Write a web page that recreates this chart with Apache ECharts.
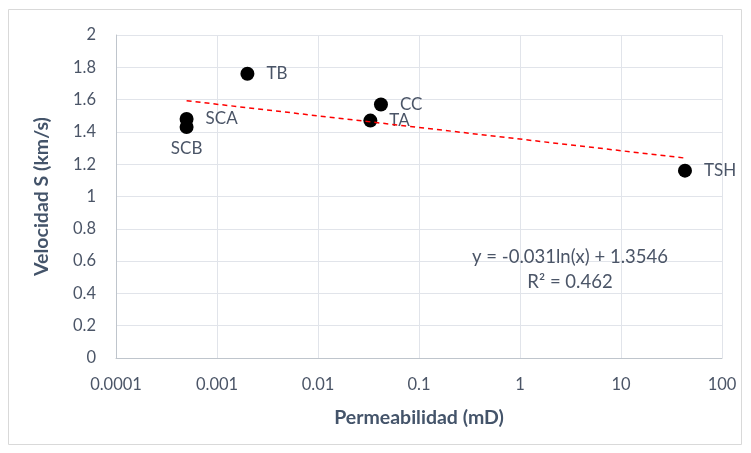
<!DOCTYPE html>
<html>
<head>
<meta charset="utf-8">
<script src="https://cdn.jsdelivr.net/npm/echarts@6/dist/echarts.min.js"></script>
<style>
  html, body { margin: 0; padding: 0; background: #fff; }
  #chart { width: 751px; height: 453px; }
</style>
</head>
<body>
<div id="chart"></div>
<script>
const sampleNames = ['SCA', 'SCB', 'TB', 'CC', 'TA', 'TSH']
const permeability = [0.0005, 0.0005, 0.002, 0.042, 0.033, 43]
const velocityS = [1.48, 1.43, 1.76, 1.57, 1.47, 1.16]
const trendX = [0.0005, 43]
const trendY = [1.593, 1.238]
const xTickLabels = ['0.0001', '0.001', '0.01', '0.1', '1', '10', '100']
const equationText = 'y = -0.031ln(x) + 1.3546'
const r2Text = 'R² = 0.462'

const textColor = '#4b5567'
const titleColor = '#44546a'
const font = 'Lato, "Noto Sans", sans-serif'

const chart = echarts.init(document.getElementById('chart'), null, { renderer: 'canvas' })

const points = sampleNames.map((name, i) => ({
  name,
  value: [permeability[i], velocityS[i]],
  label: name === 'SCB' ? { position: 'bottom', distance: 6 } : undefined
}))

const option = {
  backgroundColor: '#fff',
  animation: false,
  grid: { left: 116, top: 35, right: 29, bottom: 95 },
  xAxis: {
    type: 'log',
    logBase: 10,
    min: 0.0001,
    max: 100,
    name: 'Permeabilidad (mD)',
    nameLocation: 'middle',
    nameGap: 50,
    nameTextStyle: { color: titleColor, fontSize: 19.5, fontWeight: 'bold', fontFamily: font },
    axisLine: { show: true, lineStyle: { color: '#bfc5cc' } },
    axisTick: { show: false },
    minorTick: { show: false },
    axisLabel: {
      color: textColor, fontSize: 16.5, fontFamily: font, margin: 18,
      formatter: (v, i) => xTickLabels[i] !== undefined ? xTickLabels[i] : ''
    },
    splitLine: { show: true, lineStyle: { color: '#e1e4ea' } }
  },
  yAxis: {
    type: 'value',
    min: 0,
    max: 2,
    interval: 0.2,
    name: 'Velocidad S (km/s)',
    nameLocation: 'middle',
    nameGap: 64,
    nameTextStyle: { color: titleColor, fontSize: 19.5, fontWeight: 'bold', fontFamily: font },
    axisLine: { show: true, lineStyle: { color: '#bfc5cc' } },
    axisTick: { show: false },
    axisLabel: {
      color: textColor, fontSize: 16.5, fontFamily: font, margin: 20,
      formatter: v => String(Math.round(v * 10) / 10)
    },
    splitLine: { show: true, lineStyle: { color: '#e1e4ea' } }
  },
  series: [
    {
      type: 'scatter',
      data: points,
      symbolSize: 14,
      itemStyle: { color: '#000', opacity: 1 },
      label: {
        show: true,
        position: 'right',
        distance: 12,
        formatter: p => p.name,
        color: textColor,
        fontSize: 17,
        fontFamily: font
      },
      z: 2
    },
    {
      type: 'line',
      data: trendX.map((x, i) => [x, trendY[i]]),
      symbol: 'none',
      lineStyle: { color: '#ff0000', width: 1.5, type: [5, 4] },
      z: 3
    }
  ],
  graphic: [
    {
      type: 'rect',
      shape: { x: 8.5, y: 9.5, width: 733, height: 435 },
      style: { fill: 'none', stroke: '#d9d9d9', lineWidth: 1 },
      z: -1
    },
    {
      type: 'text',
      x: 570, y: 257,
      style: { text: equationText, fill: textColor, fontSize: 18.5, fontFamily: font, textAlign: 'center', textVerticalAlign: 'middle' },
      z: 10
    },
    {
      type: 'text',
      x: 570, y: 282,
      style: { text: r2Text, fill: textColor, fontSize: 18.5, fontFamily: font, textAlign: 'center', textVerticalAlign: 'middle' },
      z: 10
    }
  ]
}

chart.setOption(option)
</script>
</body>
</html>
